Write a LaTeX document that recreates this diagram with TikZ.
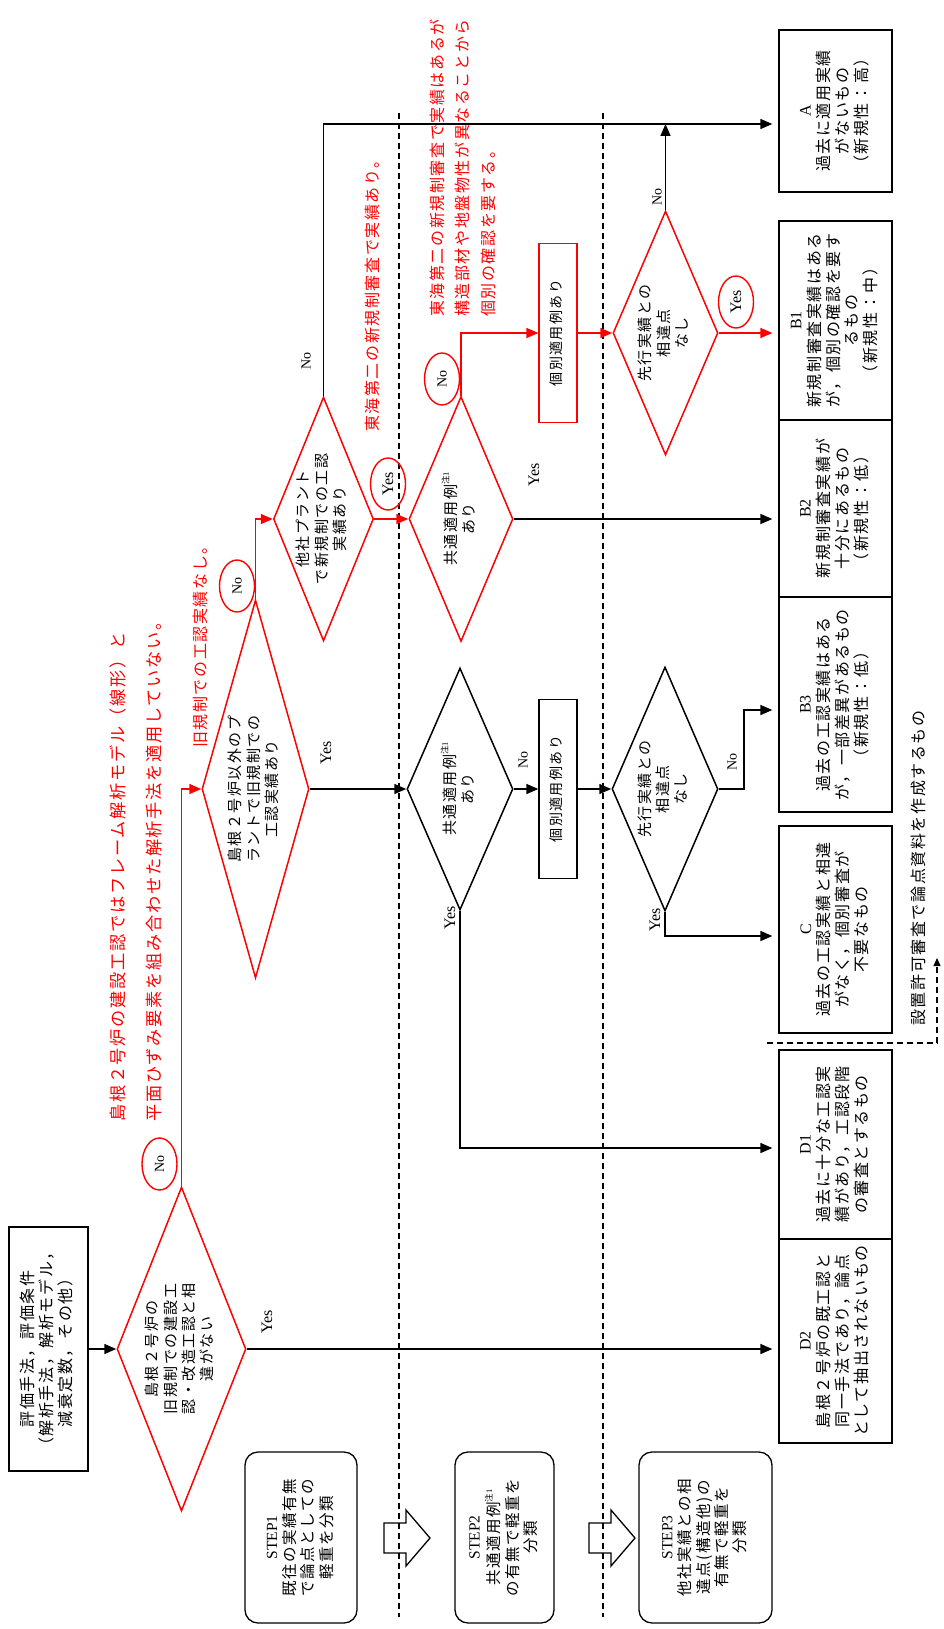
\documentclass[tikz,border=0pt]{standalone}
\usepackage{fontspec}
\usepackage{graphicx}
\setmainfont{Noto Sans CJK JP}[LetterSpace=10]
\newfontfamily\lat{Liberation Serif}
\usetikzlibrary{shapes.geometric,arrows.meta,calc}
\newcommand{\rtxt}[1]{\rotatebox{90}{\begin{tabular}{@{}c@{}}#1\end{tabular}}}
\newcommand{\chu}{\raisebox{0.5em}{\fontsize{8.5}{8.5}\selectfont 注{\lat 1}}}
\begin{document}
\begin{tikzpicture}[x=1pt,y=-1pt,
  bx/.style={draw, line width=1.3pt, inner sep=0pt, font=\fontsize{16}{18.3}\selectfont},
  rbx/.style={bx, draw=red},
  stepbox/.style={bx, rounded corners=13pt, font=\fontsize{15.5}{17.8}\selectfont},
  dia/.style={diamond, draw, line width=1.5pt, inner sep=0pt},
  rdia/.style={dia, draw=red},
  dtxt/.style={font=\fontsize{15}{18.3}\selectfont, inner sep=0pt},
  conn/.style={line width=1.5pt, -{Triangle[length=12pt,width=10pt]}},
  rconn/.style={conn, red},
  res/.style={shorten >=6pt},
  lab/.style={rotate=90, inner sep=0pt, font=\lat\fontsize{16}{18}\selectfont},
  oval/.style={ellipse, draw=red, line width=1.4pt, rotate=90, minimum width=52pt, minimum height=35pt, inner sep=0pt, font=\lat\fontsize{14}{16}\selectfont},
  note/.style={rotate=90, anchor=west, text=red, inner sep=0pt, font=\fontsize{16}{18}\selectfont},
  divline/.style={line width=1.2pt, dash pattern=on 6pt off 4pt},
  blockarrow/.style={line width=1.3pt, line join=miter},
]
\useasboundingbox (0,0) rectangle (943,1629);

% divider lines
\draw[divline] (399,113) -- (399,1617);
\draw[divline] (603,113) -- (603,1617);

% step arrows
\foreach \dx in {0,205}{
  \draw[blockarrow] (384+\dx,1523) -- (406+\dx,1523) -- (406+\dx,1510) -- (430+\dx,1538)
    -- (406+\dx,1566) -- (406+\dx,1553) -- (384+\dx,1553) -- cycle;
}

% step boxes
\node[stepbox, minimum width=112pt, minimum height=171pt] (s1) at (301,1537.5)
  {\rtxt{{\lat STEP1}\\既往の実績有無\\で論点としての\\軽重を分類}};
\node[stepbox, minimum width=99pt, minimum height=171pt] (s2) at (504.5,1537.5)
  {\rtxt{{\lat STEP2}\\共通適用例\chu\\の有無で軽重を\\分類}};
\node[stepbox, minimum width=133pt, minimum height=171pt] (s3) at (705.5,1537.5)
  {\rtxt{{\lat STEP3}\\他社実績との相\\違点(構造他)の\\有無で軽重を\\分類}};

% start box
\node[bx, minimum width=79pt, minimum height=244pt] (st) at (48.5,1349)
  {\rtxt{評価手法，評価条件\\（解析手法，解析モデル，\\減衰定数，その他）}};

% result boxes
\node[bx, minimum width=113pt, minimum height=162pt] (A) at (835.5,111)
  {\rtxt{{\lat A}\\過去に適用実績\\がないもの\\（新規性：高）}};
\node[bx, minimum width=113pt, minimum height=199pt] (B1) at (835.5,320.5)
  {\rtxt{{\lat B1}\\新規制審査実績はある\\が，個別の確認を要す\\るもの\\（新規性：中）}};
\node[bx, minimum width=113pt, minimum height=177pt] (B2) at (835.5,508.5)
  {\rtxt{{\lat B2}\\新規制審査実績が\\十分にあるもの\\（新規性：低）}};
\node[bx, minimum width=113pt, minimum height=215pt] (B3) at (835.5,704.5)
  {\rtxt{{\lat B3}\\過去の工認実績はある\\が，一部差異があるもの\\（新規性：低）}};
\node[bx, minimum width=113pt, minimum height=207pt] (C) at (835.5,929.5)
  {\rtxt{{\lat C}\\過去の工認実績と相違\\がなく，個別審査が\\不要なもの}};
\node[bx, minimum width=113pt, minimum height=189pt] (D1) at (835.5,1144.5)
  {\rtxt{{\lat D1}\\過去に十分な工認実\\績があり，工認段階\\の審査とするもの}};
\node[bx, minimum width=113pt, minimum height=204pt] (D2) at (835.5,1341)
  {\rtxt{{\lat D2}\\島根２号炉の既工認と\\同一手法であり，論点\\として抽出されないもの}};

% diamonds
\node[rdia, minimum width=129pt, minimum height=324pt] (d1) at (181.5,1349) {};
\node[dtxt] at (d1) {\rtxt{島根２号炉の\\旧規制での建設工\\認・改造工認と相\\違がない}};
\node[rdia, minimum width=107pt, minimum height=378pt] (d2) at (255.5,789) {};
\node[dtxt] at (d2) {\rtxt{島根２号炉以外のプ\\ラントで旧規制での\\工認実績あり}};
\node[rdia, minimum width=100pt, minimum height=244pt] (d3) at (323.5,519) {};
\node[dtxt] at (d3) {\rtxt{他社プラント\\で新規制での工認\\実績あり}};
\node[rdia, minimum width=104pt, minimum height=245pt] (d4) at (461,519) {};
\node[dtxt] at (d4) {\rtxt{共通適用例\chu\\あり}};
\node[dia, minimum width=106pt, minimum height=242pt] (d5) at (460,789) {};
\node[dtxt] at (d5) {\rtxt{共通適用例\chu\\あり}};
\node[rdia, minimum width=105pt, minimum height=244pt] (d6) at (665.5,333) {};
\node[dtxt] at (d6) {\rtxt{先行実績との\\相違点\\なし}};
\node[dia, minimum width=106pt, minimum height=244pt] (d7) at (665,789) {};
\node[dtxt] at (d7) {\rtxt{先行実績との\\相違点\\なし}};

% small boxes
\node[rbx, minimum width=38pt, minimum height=179pt, font=\fontsize{14}{16}\selectfont] (rb) at (558,333) {\rtxt{個別適用例あり}};
\node[bx, minimum width=38pt, minimum height=179pt, font=\fontsize{14}{16}\selectfont] (bb) at (558,789) {\rtxt{個別適用例あり}};

% helper coordinates
\coordinate (ya) at (0,124);
\coordinate (yb3) at (0,710);
\coordinate (yc) at (0,936);
\coordinate (yd1) at (0,1148);

% connectors
\draw[conn] (st.east) -- (d1.west);
\draw[conn,res] (d1.east) -- (D2.west |- d1.east);
\draw[rconn] (d1.north) |- (d2.west);
\draw[rconn] (d2.north) |- (d3.west);
\draw[conn] (d2.east) -- (d5.west);
\draw[conn,res] (d3.north) |- (A.west |- ya);
\draw[rconn] (d3.east) -- (d4.west);
\draw[conn,res] (d4.east) -- (B2.west |- d4.east);
\draw[rconn] (d4.north) |- (rb.west);
\draw[rconn] (rb.east) -- (d6.west);
\draw[rconn,res] (d6.east) -- (B1.west |- d6.east);
\draw[conn] (d6.north) -- (d6.north |- ya);
\draw[conn] (d5.east) -- (bb.west);
\draw[conn,res] (d5.south) |- (D1.west |- yd1);
\draw[conn] (bb.east) -- (d7.west);
\draw[conn,res] (d7.east) -- ++(25,0) |- (B3.west |- yb3);
\draw[conn,res] (d7.south) |- (C.west |- yc);

% dashed bracket
\coordinate (q1) at (767,1043);
\coordinate (q2) at (937,1043);
\coordinate (q3) at (937,958);
\draw[line width=1.2pt, dash pattern=on 6pt off 4pt, -{Triangle[length=8pt,width=7pt]}] (q1) -- (q2) -- (q3);
\node[rotate=90, inner sep=0pt, font=\fontsize{16}{18}\selectfont] (setnote) at (918,868) {設置許可審査で論点資料を作成するもの};

% labels
\node[lab] (y1) at (267,1322) {Yes};
\node[lab] (y2) at (326,753) {Yes};
\node[lab] (y4) at (534,475) {Yes};
\node[lab] (y5) at (450,918) {Yes};
\node[lab] (y7) at (655,920) {Yes};
\node[lab, font=\lat\fontsize{14}{16}\selectfont] (n3l) at (306,361) {No};
\node[lab, font=\lat\fontsize{14}{16}\selectfont] (n6l) at (657,197) {No};
\node[lab, font=\lat\fontsize{14}{16}\selectfont] (n5l) at (523,760) {No};
\node[lab, font=\lat\fontsize{14}{16}\selectfont] (n7l) at (732,762) {No};

\node[oval] (o1) at (159.5,1164) {No};
\node[oval] (o2) at (237,586) {No};
\node[oval, font=\lat\fontsize{16}{18}\selectfont] (o3) at (388,484) {Yes};
\node[oval] (o4) at (442,379) {No};
\node[oval, font=\lat\fontsize{16}{18}\selectfont] (o6) at (736,302) {Yes};

% red notes
\node[note, font=\fontsize{17.2}{18}\selectfont] (r1) at (118,1122) {島根２号炉の建設工認ではフレーム解析モデル（線形）と};
\node[note, font=\fontsize{17.2}{18}\selectfont] (r2) at (154,1122) {平面ひずみ要素を組み合わせた解析手法を適用していない。};
\node[note] (r3) at (200,748) {旧規制での工認実績なし。};
\node[note] (r4) at (372,432) {東海第二の新規制審査で実績あり。};
\node[note] (r5) at (437,317) {東海第二の新規制審査で実績はあるが};
\node[note] (r6) at (462,317) {構造部材や地盤物性が異なることから};
\node[note] (r7) at (488,317) {個別の確認を要する。};
\end{tikzpicture}
\end{document}
